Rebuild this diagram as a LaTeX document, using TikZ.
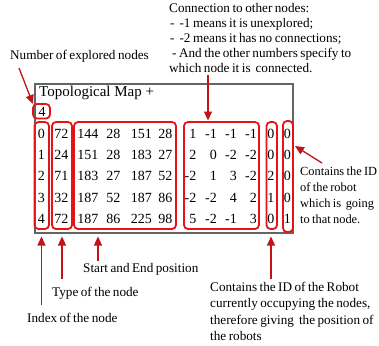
\documentclass[tikz,border=0pt]{standalone}
\usepackage{fontspec}
\setmainfont{Liberation Serif}
\newfontfamily\lblfont[WordSpace=0.75]{Liberation Serif}
\usetikzlibrary{arrows.meta}
\definecolor{boxred}{RGB}{228,20,20}
\definecolor{arrred}{RGB}{192,20,24}
\definecolor{framegray}{RGB}{100,100,100}
\tikzset{
  lbl/.style={anchor=base west, inner sep=0pt, font=\lblfont\fontsize{13.2}{15}\selectfont},
  lblsm/.style={lbl, font=\lblfont\fontsize{12.4}{14}\selectfont},
  num/.style={anchor=base east, inner sep=0pt, font=\fontsize{14}{16}\selectfont},
  ttl/.style={anchor=base west, inner sep=0pt, font=\fontsize{15}{17}\selectfont},
  redbox/.style={draw=boxred, line width=1.8pt, rounded corners=4pt},
  arr/.style={draw=arrred, line width=1.3pt, -{Triangle[length=9pt,width=8pt]}},
}
\begin{document}
\begin{tikzpicture}[x=1pt,y=-1pt]
\useasboundingbox (0,0) rectangle (379,345);
\fill[white] (0,0) rectangle (379,345);
% main frame
\draw[framegray, line width=1.3pt] (35,84) rectangle (293,233);
\node[ttl] (title) at (39,96.5) {Topological Map +};
\node[num, anchor=base west] (count) at (38.5,116) {4};
% table rows
\foreach \i/\t/\a/\b/\c/\d/\e/\f/\g/\h/\o/\w [count=\n from 0] in {
  0/72/144/28/151/28/1/-1/-1/-1/0/0,
  1/24/151/28/183/27/2/0/-2/-2/0/0,
  2/71/183/27/187/52/-2/1/3/-2/2/0,
  3/32/187/52/187/86/-2/-2/4/2/1/0,
  4/72/187/86/225/98/5/-2/-1/3/0/1}{
  \pgfmathsetmacro{\yy}{138.5+21.2*\n}
  \node[num] (i\n) at (45,\yy) {\i};
  \node[num] (t\n) at (68.5,\yy) {\t};
  \node[num] (sa\n) at (98.5,\yy) {\a};
  \node[num] (sb\n) at (120.5,\yy) {\b};
  \node[num] (sc\n) at (152,\yy) {\c};
  \node[num] (sd\n) at (172.5,\yy) {\d};
  \node[num] (ca\n) at (196.5,\yy) {\e};
  \node[num] (cb\n) at (217,\yy) {\f};
  \node[num] (cc\n) at (237,\yy) {\g};
  \node[num] (cd\n) at (257,\yy) {\h};
  \node[num] (o\n) at (274.5,\yy) {\o};
  \node[num] (w\n) at (291,\yy) {\w};
}
% red boxes
\draw[redbox] (33,104) rectangle (50,118.5);
\coordinate (fourtl) at (33,104);
\draw[redbox] (34.5,122) rectangle (49,229);
\draw[redbox] (52,122) rectangle (72,229);
\draw[redbox] (74,122) rectangle (176,229);
\draw[redbox] (184,122) rectangle (259,229);
\draw[redbox] (266.5,122) rectangle (277,229);
\draw[redbox] (283,121) rectangle (293,232);
% top labels
\node[lbl] (nexp) at (10,59) {Number of explored nodes};
\node[lbl] (c1) at (169,13) {Connection to other nodes:};
\node[lbl] (c2) at (170,28) {-\ \ -1 means it is unexplored;};
\node[lbl] (c3) at (170,42.5) {-\ \ -2 means it has no connections;};
\node[lbl] (c4) at (172,57.5) {- And the other numbers specify to};
\node[lbl] (c5) at (169,72) {which node it is\ \ connected.};
% right label
\node[lblsm] (g1) at (300,175) {Contains the ID};
\node[lblsm] (g2) at (300,191) {of the robot};
\node[lblsm] (g3) at (300,207) {which is\ \ going};
\node[lblsm] (g4) at (300,223) {to that node.};
% bottom labels
\node[lbl] (se) at (83,272) {Start and End position};
\node[lbl] (ty) at (52,296) {Type of the node};
\node[lbl] (ix) at (27,322) {Index of the node};
\node[lbl] (r1) at (210,291) {Contains the ID of the Robot};
\node[lbl] (r2) at (210,307.5) {currently occupying the nodes,};
\node[lbl] (r3) at (210,324) {therefore giving\ \ the position of};
\node[lbl] (r4) at (210,340) {the robots};
% arrows
\coordinate (a1s) at (19,68);
\draw[arr] (a1s) -- (fourtl);
\coordinate (a2s) at (208,75);
\coordinate (a2e) at (208,120.5);
\draw[arr] (a2s) -- (a2e);
\coordinate (a3s) at (322,163);
\coordinate (a3e) at (295,146);
\draw[arr] (a3s) -- (a3e);
\coordinate (b1s) at (41.5,305);
\coordinate (b1e) at (41.5,236.5);
\draw[arr] (b1s) -- (b1e);
\coordinate (b2s) at (62,279);
\coordinate (b2e) at (62,236.5);
\draw[arr] (b2s) -- (b2e);
\coordinate (b3s) at (98,261);
\coordinate (b3e) at (98,236.5);
\draw[arr] (b3s) -- (b3e);
\coordinate (b4s) at (271,279);
\coordinate (b4e) at (271,236.5);
\draw[arr] (b4s) -- (b4e);
\end{tikzpicture}
\end{document}
